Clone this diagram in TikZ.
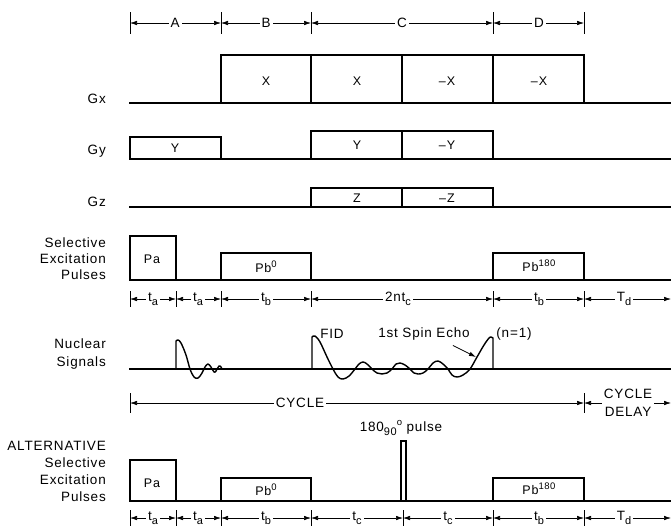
\documentclass[tikz,border=0pt]{standalone}
\usepackage{fontspec}
\setmainfont{Liberation Sans}[LetterSpace=6]
\usetikzlibrary{arrows.meta,calc}
\newcommand\lowtxt[1]{\raisebox{-0.5ex}{\fontsize{11}{11}\selectfont #1}}
\newcommand\hightxt[1]{\raisebox{0.8ex}{\fontsize{9.5}{10}\selectfont #1}}
\tikzset{
  every node/.style={font=\fontsize{13.5}{16}\selectfont, inner sep=1pt},
  base/.style={line width=1.5pt, line cap=rect},
  boxline/.style={line width=1.4pt, line join=miter},
  sig/.style={line width=1.4pt, line join=round},
  tickline/.style={line width=0.8pt},
  dimline/.style={line width=0.6pt, {Latex[length=7pt,width=4.5pt]}-{Latex[length=7pt,width=4.5pt]}},
  dimlabel/.style={fill=white, inner sep=2pt},
  sidelabel/.style={anchor=east, align=right},
  boxlabel/.style={font=\fontsize{12.5}{14}\selectfont},
}
\newcommand\dimseg[6]{% name, x1, x2, y, label x, label
  \coordinate (#1-l) at (#2,#4);
  \coordinate (#1-r) at (#3,#4);
  \draw[dimline] (#1-l) -- (#1-r);
  \node[dimlabel] (#1) at (#5,#4) {#6};
}
\newcommand\ticks[3]{% y1, y2, list of x
  \foreach \xx in {#3} {\draw[tickline] (\xx,#1) -- (\xx,#2);}
}
\begin{document}
\begin{tikzpicture}[x=1pt,y=-1pt]
\useasboundingbox (0,0) rectangle (671,531);

% ---------- top dimension row
\ticks{12}{34}{130,221,311,493,584}
\dimseg{dA}{130}{221}{23}{175}{A}
\dimseg{dB}{221}{311}{23}{266}{B}
\dimseg{dC}{311}{493}{23}{402}{C}
\dimseg{dD}{493}{584}{23}{539}{D}

% ---------- Gx
\node[sidelabel] (gx) at (107,99) {Gx};
\draw[base] (130,103) -- (671,103);
\draw[boxline] (221,103) -- (221,55) -- (584,55) -- (584,103);
\foreach \xx in {311,402,493} {\draw[boxline] (\xx,55) -- (\xx,103);}
\node[boxlabel] (gx1) at (266,81) {X};
\node[boxlabel] (gx2) at (357,81) {X};
\node[boxlabel] (gx3) at (447,81) {--\kern1pt X};
\node[boxlabel] (gx4) at (539,81) {--\kern1pt X};

% ---------- Gy
\node[sidelabel] (gy) at (107,151) {Gy};
\draw[base] (130,159) -- (671,159);
\draw[boxline] (130,159) -- (130,137) -- (221,137) -- (221,159);
\draw[boxline] (311,159) -- (311,131) -- (493,131) -- (493,159);
\draw[boxline] (402,131) -- (402,159);
\node[boxlabel] (gy1) at (175,148) {Y};
\node[boxlabel] (gy2) at (357,145) {Y};
\node[boxlabel] (gy3) at (447,145) {--\kern1pt Y};

% ---------- Gz
\node[sidelabel] (gz) at (107,202) {Gz};
\draw[base] (130,207) -- (671,207);
\draw[boxline] (311,207) -- (311,188) -- (493,188) -- (493,207);
\draw[boxline] (402,188) -- (402,207);
\node[boxlabel] (gz1) at (357,198) {Z};
\node[boxlabel] (gz2) at (447,198) {--\kern1pt Z};

% ---------- Selective excitation pulses
\node[sidelabel] (sel) at (107,259) {Selective\\Excitation\\Pulses};
\draw[base] (130,280) -- (671,280);
\draw[boxline] (130,280) -- (130,236) -- (176,236) -- (176,280);
\draw[boxline] (221,280) -- (221,253) -- (311,253) -- (311,280);
\draw[boxline] (493,280) -- (493,253) -- (584,253) -- (584,280);
\node[boxlabel] (pa) at (152,259) {Pa};
\node[boxlabel] (pb0) at (266,267) {Pb\hightxt{0}};
\node[boxlabel] (pb180) at (539,266) {Pb\hightxt{180}};

% ---------- timing row 1
\ticks{291}{307}{130,176,221,311,493,584}
\dimseg{t1}{130}{176}{299}{153}{t\lowtxt{a}}
\dimseg{t2}{176}{221}{299}{198}{t\lowtxt{a}}
\dimseg{t3}{221}{311}{299}{266}{t\lowtxt{b}}
\dimseg{t4}{311}{493}{299}{398}{2nt\lowtxt{c}}
\dimseg{t5}{493}{584}{299}{539}{t\lowtxt{b}}
\dimseg{t6}{584}{671}{299}{624}{T\lowtxt{d}}

% ---------- Nuclear signals
\node[sidelabel, font=\fontsize{13.5}{18}\selectfont] (nuc) at (107,354) {Nuclear\\Signals};
\draw[base] (130,369) -- (671,369);
\draw[sig] (176,369) -- (176,341) -- plot[smooth, tension=0.6] coordinates {(176,341) (178,340) (181,343) (186,355) (190,369) (194,377) (198,378) (202,373) (205,367) (208,364) (211,367) (214,372) (216,371) (219,366) (221,367) (222,369)};
\draw[sig] (312,369) -- (312,337) -- plot[smooth, tension=0.6] coordinates {(312,337) (315,336) (320,342) (327,357) (333,369) (338,377) (343,379) (349,376) (355,369) (359,364) (363,362) (367,364) (372,369) (377,373) (382,374) (387,373) (392,369) (396,364) (400,363) (405,365) (410,369) (414,373) (418,374) (423,373) (428,369) (433,363) (438,361) (443,364) (448,369) (452,375) (457,377) (463,375) (470,369) (477,357) (484,345) (489,338) (491,337)} -- (493,338) -- (493,369);
\node (fid) at (332,334) {FID};
\node (echo) at (424,334) {1st Spin Echo};
\node (nis1) at (514,334) {(n=1)};
\coordinate (echotip) at (476,357);
\draw[line width=0.8pt, -{Latex[length=7pt,width=4.5pt]}] (echo.south east) ++(-18,4) -- (echotip);

% ---------- cycle row
\ticks{393}{413}{130,584}
\dimseg{cyc}{130}{584}{403}{300}{CYCLE}
\dimseg{cdel}{584}{671}{403}{628}{\phantom{DELAY}}
\node[align=center, fill=white, inner sep=2pt, font=\fontsize{13.5}{18}\selectfont] (cdl) at (628,403) {CYCLE\\DELAY};

% ---------- Alternative
\node[sidelabel, font=\fontsize{13.5}{17}\selectfont] (alt) at (107,471) {ALTERNATIVE\\Selective\\Excitation\\Pulses};
\draw[base] (130,501) -- (671,501);
\draw[boxline] (130,501) -- (130,460) -- (176,460) -- (176,501);
\draw[boxline] (221,501) -- (221,478) -- (311,478) -- (311,501);
\draw[boxline] (401,501) -- (401,441) -- (406,441) -- (406,501);
\draw[boxline] (493,501) -- (493,478) -- (584,478) -- (584,501);
\node[boxlabel] (apa) at (152,483) {Pa};
\node[boxlabel] (apb0) at (266,490) {Pb\hightxt{0}};
\node[boxlabel] (apb180) at (539,489) {Pb\hightxt{180}};
\node (p180) at (401,428) {180\lowtxt{90}\hightxt{o} pulse};

% ---------- bottom timing row
\ticks{510}{526}{130,176,221,311,403,493,584}
\dimseg{b1}{130}{176}{518}{153}{t\lowtxt{a}}
\dimseg{b2}{176}{221}{518}{198}{t\lowtxt{a}}
\dimseg{b3}{221}{311}{518}{266}{t\lowtxt{b}}
\dimseg{b4}{311}{403}{518}{357}{t\lowtxt{c}}
\dimseg{b5}{403}{493}{518}{448}{t\lowtxt{c}}
\dimseg{b6}{493}{584}{518}{539}{t\lowtxt{b}}
\dimseg{b7}{584}{671}{518}{624}{T\lowtxt{d}}
\end{tikzpicture}
\end{document}
